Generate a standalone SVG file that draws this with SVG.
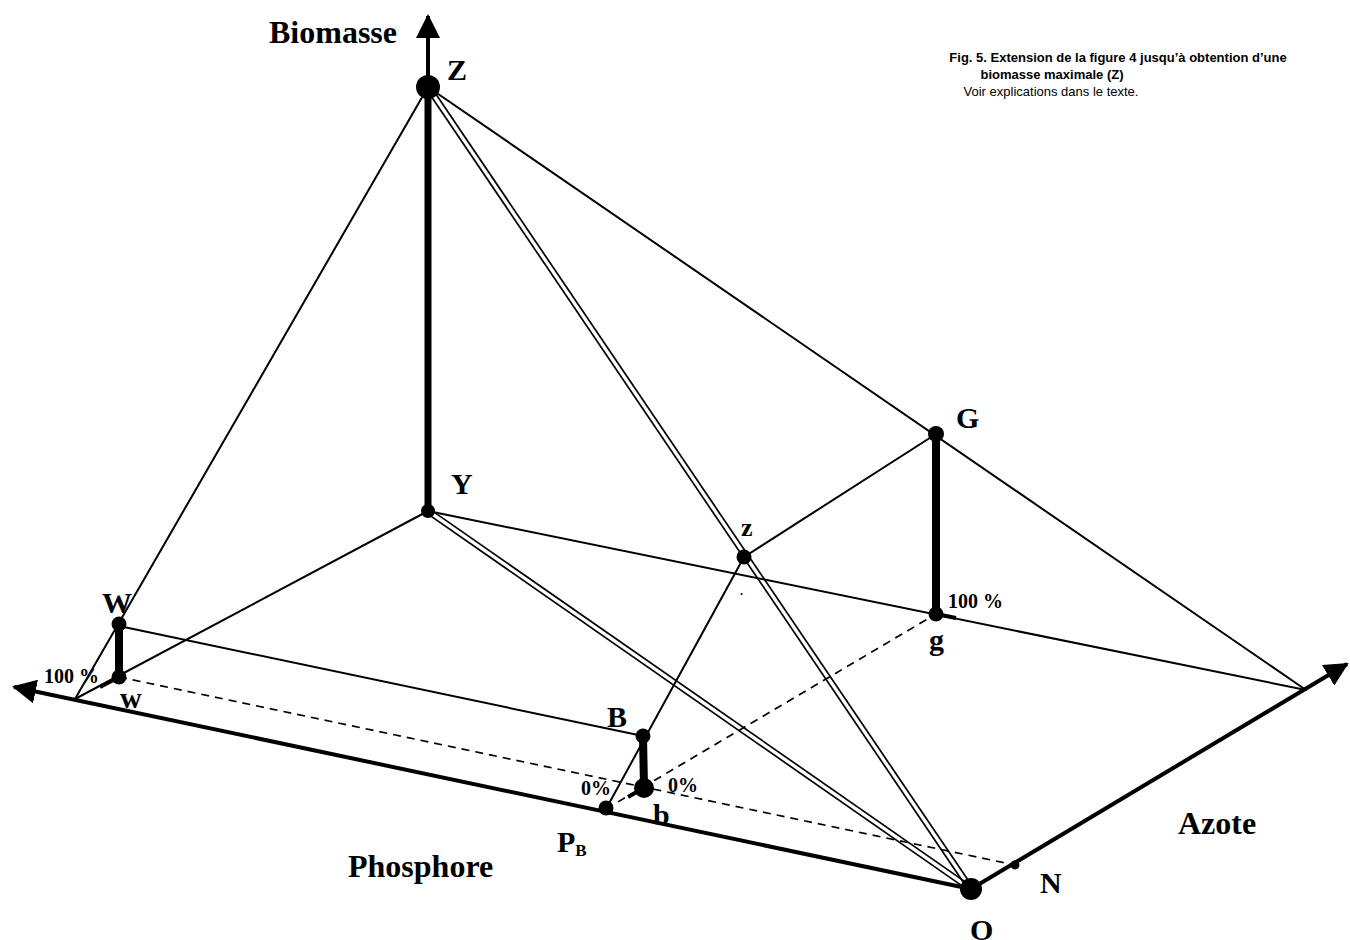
<svg xmlns="http://www.w3.org/2000/svg" width="1350" height="940" viewBox="0 0 1350 940">
<style>
.thin{stroke:#000;stroke-width:2;fill:none;stroke-linecap:round}
.dbl{stroke:#000;stroke-width:1.7;fill:none}
.dash{stroke:#000;stroke-width:1.7;fill:none;stroke-dasharray:8 6}
.axis{stroke:#000;stroke-width:4;fill:none}
.bar{stroke:#000;stroke-width:8;fill:none}
.tick{stroke:#000;stroke-width:4;fill:none}
.lbl{font-family:"Liberation Serif","Times New Roman",serif;font-weight:bold;fill:#000}
.big{font-size:32px}
.let{font-size:30px}
.sm{font-size:20px}
.cap{font-family:"Liberation Sans",Arial,sans-serif;font-size:13px;fill:#000;text-anchor:middle}
</style>
<defs>
<marker id="arr" viewBox="0 0 24 24" refX="22" refY="12" markerWidth="24" markerHeight="24" markerUnits="userSpaceOnUse" orient="auto">
<path d="M0,0 L24,12 L0,24 Z" fill="#000"/>
</marker>
</defs>
<g id="connectors">
<line class="axis" x1="971" y1="889" x2="14" y2="687" marker-end="url(#arr)"/>
<line class="axis" x1="971" y1="889" x2="1347" y2="664" marker-end="url(#arr)"/>
<line class="axis" x1="428" y1="87" x2="428" y2="16" stroke-width="6" marker-end="url(#arr)"/>
<line x1="428" y1="511" x2="428" y2="87" stroke="#000" stroke-width="7"/>
<line class="thin" x1="428" y1="87" x2="75" y2="699"/>
<line class="thin" x1="428" y1="511" x2="75" y2="699"/>
<line class="thin" x1="428" y1="87" x2="1306" y2="690"/>
<line class="thin" x1="428" y1="511" x2="1306" y2="690"/>
<line class="thin" x1="119" y1="626" x2="643" y2="736"/>
<line class="thin" x1="744" y1="557" x2="936" y2="434"/>
<line class="thin" x1="744" y1="557" x2="606" y2="809"/>
<line class="dbl" x1="430.1" y1="85.6" x2="973.1" y2="887.6"/>
<line class="dbl" x1="425.9" y1="88.4" x2="968.9" y2="890.4"/>
<line class="dbl" x1="429.4" y1="508.9" x2="972.4" y2="886.9"/>
<line class="dbl" x1="426.6" y1="513.1" x2="969.6" y2="891.1"/>
<line class="dash" x1="119" y1="677" x2="1015" y2="865"/>
<line class="dash" x1="606" y1="809" x2="936" y2="614"/>
<line class="bar" x1="119" y1="624" x2="119" y2="677"/>
<line class="bar" x1="643" y1="736" x2="644" y2="788"/>
<line class="bar" x1="936" y1="434" x2="936" y2="614"/>
<line class="tick" x1="119" y1="677" x2="100" y2="687"/>
<line class="tick" x1="644" y1="788" x2="628" y2="797"/>
<line class="tick" x1="936" y1="614" x2="956" y2="618"/>
</g>
<g id="caption">
<text class="cap" x="1118" y="62" font-weight="bold">Fig. 5. Extension de la figure 4 jusqu’à obtention d’une</text>
<text class="cap" x="1052" y="79" font-weight="bold">biomasse maximale (Z)</text>
<text class="cap" x="1051" y="96" font-size="12.5px">Voir explications dans le texte.</text>
</g>
<g id="axis-labels">
<text class="lbl big" x="269" y="43">Biomasse</text>
<text class="lbl big" x="348" y="877">Phosphore</text>
<text class="lbl big" x="1178" y="834">Azote</text>
</g>
<g id="node-Z"><circle cx="428" cy="87" r="12"/><text class="lbl let" x="447" y="80">Z</text></g>
<g id="node-Y"><circle cx="428" cy="511" r="7"/><text class="lbl let" x="451" y="494">Y</text></g>
<g id="node-O"><circle cx="971" cy="889" r="11"/><text class="lbl let" x="970" y="940">O</text></g>
<g id="node-N"><circle cx="1015" cy="865" r="4.5"/><text class="lbl let" x="1040" y="893">N</text></g>
<g id="node-G"><circle cx="936" cy="434" r="8"/><text class="lbl let" x="956" y="428">G</text></g>
<g id="node-g"><circle cx="936" cy="614" r="7.5"/><text class="lbl let" x="929" y="650">g</text><text class="lbl sm" x="948" y="608">100 %</text></g>
<g id="node-z"><circle cx="744" cy="557" r="7.5"/><text class="lbl" font-size="26" x="741" y="536">z</text><text class="lbl" font-size="12" x="740" y="595">.</text></g>
<g id="node-W"><circle cx="119" cy="624" r="7.5"/><text class="lbl let" x="102" y="613">W</text></g>
<g id="node-w"><circle cx="119" cy="677" r="7.5"/><text class="lbl let" x="120" y="708">w</text><text class="lbl sm" x="44" y="683">100 %</text></g>
<g id="node-B"><circle cx="643" cy="736" r="7.5"/><text class="lbl let" x="607" y="727">B</text></g>
<g id="node-b"><circle cx="644" cy="788" r="10"/><text class="lbl let" x="653" y="825">b</text><text class="lbl sm" x="668" y="792">0%</text></g>
<g id="node-PB"><circle cx="606" cy="808" r="7.5"/><text class="lbl let" x="557" y="852">P<tspan font-size="17" dy="4">B</tspan></text><text class="lbl sm" x="581" y="795">0%</text></g>
</svg>
